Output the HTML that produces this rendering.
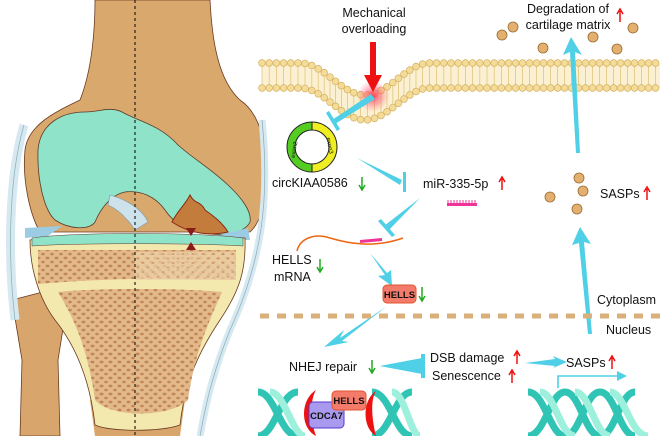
<!DOCTYPE html>
<html><head><meta charset="utf-8"><style>
html,body{margin:0;padding:0;background:#fff;}
svg{display:block;}
text{font-family:"Liberation Sans",Arial,sans-serif;fill:#111;}
</style></head><body>
<svg width="660" height="436" viewBox="0 0 660 436" xmlns="http://www.w3.org/2000/svg">
<defs>
<pattern id="sp" width="9" height="8" patternUnits="userSpaceOnUse">
<rect width="9" height="8" fill="#e3b98a"/>
<ellipse cx="2.5" cy="2" rx="2" ry="1.4" fill="#c0865a"/>
<ellipse cx="7" cy="6" rx="1.8" ry="1.3" fill="#c0865a"/>
</pattern>
<pattern id="sp2" width="10" height="9" patternUnits="userSpaceOnUse">
<rect width="10" height="9" fill="#ecd2a8"/>
<ellipse cx="3" cy="2" rx="1.6" ry="1" fill="#cf9a6c"/>
<ellipse cx="8" cy="6.5" rx="1.5" ry="1" fill="#cf9a6c"/>
</pattern>
<radialGradient id="glow"><stop offset="0" stop-color="#ff3355" stop-opacity="0.9"/><stop offset="1" stop-color="#ff6688" stop-opacity="0"/></radialGradient>
</defs>

<path d="M12,300 L58,288 L66,310 L58,360 L60,436 L20,436 L22,360 Z" fill="#d8a66c" stroke="#6b3a20" stroke-width="0.8"/>
<path d="M90,400 L185,400 L180,436 L95,436 Z" fill="#d8a66c"/>
<path d="M95,0 L210,0 C212,40 218,80 240,100 C262,115 268,150 266,185 C264,210 258,225 250,232 L40,232 C30,215 22,180 25,150 C28,125 55,112 80,100 C92,70 95,30 95,0 Z" fill="#d9a86c" stroke="#6b3a20" stroke-width="0.8"/>
<path d="M38,150 C40,125 60,112 85,112 C100,112 110,106 122,112 C140,122 160,125 178,145 C195,160 210,168 228,185 C242,198 252,212 250,222 C245,232 228,236 210,234 C190,232 175,225 165,210 C155,196 140,190 125,192 C110,195 100,210 95,222 C90,230 70,230 55,220 C44,210 37,180 38,150 Z" fill="#8fe3c8" stroke="#5a3a2a" stroke-width="0.8"/>
<path d="M172,222 C178,210 185,205 190,195 C195,205 200,200 205,210 C212,215 222,222 228,232 C210,236 190,234 172,222 Z" fill="#c47c3c" stroke="#8a2a14" stroke-width="1"/>
<path d="M110,195 C120,198 140,205 148,222 L135,230 C125,215 115,208 108,205 Z" fill="#cde2ea" stroke="#7a9aaa" stroke-width="0.6"/>
<path d="M25,228 L62,226 L48,236 L25,238 Z" fill="#9ccbe4"/>
<path d="M215,236 L248,228 L250,240 L222,240 Z" fill="#9ccbe4"/>
<path d="M30,240 C60,236 200,236 245,238 C246,270 240,290 220,320 C200,350 185,380 180,425 C160,432 110,432 95,425 C90,380 75,345 55,320 C40,300 30,270 30,240 Z" fill="#f3e8ae" stroke="#6b3a20" stroke-width="0.8"/>
<path d="M32,238 C70,232 200,232 243,238 L243,246 C200,243 70,243 32,246 Z" fill="#8fe3c8" stroke="#5a3a2a" stroke-width="0.5"/>
<path d="M38,250 L236,250 L236,280 C160,278 110,278 38,284 Z" fill="url(#sp)"/>
<path d="M58,292 C100,288 180,288 222,292 C210,320 195,350 188,400 C170,418 110,418 95,400 C88,350 75,320 58,292 Z" fill="url(#sp)"/>
<path d="M135,252 L236,252 L236,280 L135,280 Z" fill="url(#sp2)" opacity="0.7"/>
<path d="M24,125 C8,180 8,260 15,320" stroke="#d6e8f0" stroke-width="9" fill="none"/>
<path d="M24,125 C8,180 8,260 15,320" stroke="#8aaab8" stroke-width="0.7" fill="none"/>
<path d="M262,120 C270,200 262,260 230,330 C210,380 205,410 200,436" stroke="#d6e8f0" stroke-width="7" fill="none"/>
<path d="M262,120 C270,200 262,260 230,330 C210,380 205,410 200,436" stroke="#8aaab8" stroke-width="0.7" fill="none"/>
<path d="M186,228 L196,228 L191,236 Z" fill="#8b1a1a"/>
<path d="M186,250 L196,250 L191,242 Z" fill="#8b1a1a"/>
<line x1="135" y1="0" x2="135" y2="436" stroke="#222" stroke-width="1.2" stroke-dasharray="3,3"/>

<g id="dots"></g>

<circle cx="373" cy="96" r="16" fill="url(#glow)"/>
<path d="M370,42 L376,42 L376,75 L382,75 L373,92 L364,75 L370,75 Z" fill="#ee1111"/>

<text x="374" y="17" font-size="12.5" text-anchor="middle">Mechanical</text>
<text x="374" y="33" font-size="12.5" text-anchor="middle">overloading</text>
<text x="568" y="13" font-size="12.5" text-anchor="middle">Degradation of</text>
<text x="568" y="29" font-size="12.5" text-anchor="middle">cartilage matrix</text>
<path d="M620,22 L620,11 M617,14 L620,9 L623,14" stroke="#ee1111" stroke-width="1.5" fill="none"/>

<g fill="#e3b070" stroke="#9a6a30" stroke-width="0.8">
<circle cx="513" cy="27" r="5"/><circle cx="502" cy="35" r="5"/><circle cx="543" cy="48" r="5"/>
<circle cx="593" cy="37" r="5"/><circle cx="617" cy="49" r="5"/><circle cx="633" cy="28" r="5"/>
<circle cx="579" cy="178" r="5"/><circle cx="583" cy="191" r="5"/><circle cx="550" cy="197" r="5"/><circle cx="577" cy="209" r="5"/>
</g>
<text x="600" y="198" font-size="12.5">SASPs</text>
<path d="M647,200 L647,189 M644,192 L647,187 L650,192" stroke="#ee1111" stroke-width="1.5" fill="none"/>

<g fill="#4fd0e6">
<path d="M576,153 L580,153 L575,52 L582,55 L571,37 L563,55 L570,52 Z"/>
<path d="M588,334 L592,334 L584,242 L591,244 L580,227 L572,245 L579,243 Z"/>
<path d="M371,94 L375,99 L335,124 L332,120 Z"/>
<path d="M326,113 L329,111 L340,129 L337,131 Z"/>
<path d="M357,158 L402,180 L400,185 Z"/>
<path d="M403,172 L406,172 L406,192 L403,192 Z"/>
<path d="M420,198 L388,231 L384,226 Z"/>
<path d="M378,221 L381,219 L395,235 L392,237 Z"/>
<path d="M370,253 L385,275 L378,276 L392,286 L391,270 L387,273 Z"/>
<path d="M387,306 L340,338 L344,330 L324,347 L349,342 L342,341 Z"/>
<path d="M380,366 L422,358 L422,374 Z"/>
<path d="M421,354 L425,354 L425,378 L421,378 Z"/>
<path d="M525,363 L555,359 L553,356 L567,362 L553,368 L555,366 Z"/>
</g>
<path d="M558,388 L558,376 L620,376" stroke="#4fd0e6" stroke-width="1.6" fill="none"/>
<path d="M617,371 L627,376 L617,381 Z" fill="#4fd0e6"/>

<path d="M312,122 A25,25 0 0 0 312,172 L312,164 A17,17 0 0 1 312,130 Z" fill="#55cc22" stroke="#222" stroke-width="1"/>
<path d="M312,122 A25,25 0 0 1 312,172 L312,164 A17,17 0 0 0 312,130 Z" fill="#eeee22" stroke="#222" stroke-width="1"/>
<text x="296" y="150" font-size="6" transform="rotate(-80 296 150)" text-anchor="middle">exon2</text>
<text x="328" y="146" font-size="6" transform="rotate(80 328 146)" text-anchor="middle">exon3</text>
<text x="272" y="187" font-size="12.5">circKIAA0586</text>
<path d="M362,177 L362,189 M359,185 L362,190 L365,185" stroke="#22aa22" stroke-width="1.5" fill="none"/>

<text x="423" y="188" font-size="12.5">miR-335-5p</text>
<path d="M502,190 L502,178 M499,182 L502,177 L505,182" stroke="#ee1111" stroke-width="1.5" fill="none"/>
<rect x="447" y="203" width="30" height="3" fill="#ee3399"/>
<path d="M448,203 v-3 M451,203 v-3 M454,203 v-3 M457,203 v-3 M460,203 v-3 M463,203 v-3 M466,203 v-3 M469,203 v-3 M472,203 v-3 M475,203 v-3" stroke="#ee3399" stroke-width="1"/>

<path d="M297,251 C300,238 315,233 330,238 C350,244 375,248 403,238" stroke="#ee6611" stroke-width="1.5" fill="none"/>
<rect x="360" y="239" width="22" height="3" fill="#ee3399" transform="rotate(-5 371 240)"/>
<text x="272" y="264" font-size="12.5">HELLS</text>
<text x="274" y="281" font-size="12.5">mRNA</text>
<path d="M320,259 L320,271 M317,267 L320,272 L323,267" stroke="#22aa22" stroke-width="1.5" fill="none"/>

<rect x="383" y="285" width="33" height="18" rx="4" fill="#f47a6a" stroke="#e05530" stroke-width="1"/>
<text x="399.5" y="298" font-size="9.5" font-weight="bold" text-anchor="middle">HELLS</text>
<path d="M422,287 L422,300 M419,296 L422,301 L425,296" stroke="#22aa22" stroke-width="1.5" fill="none"/>

<line x1="260" y1="316" x2="660" y2="316" stroke="#d9b07a" stroke-width="5" stroke-dasharray="9,8"/>
<text x="597" y="304" font-size="12.5">Cytoplasm</text>
<text x="606" y="334" font-size="12.5">Nucleus</text>

<text x="289" y="371" font-size="12.5">NHEJ repair</text>
<path d="M372,360 L372,372 M369,368 L372,373 L375,368" stroke="#22aa22" stroke-width="1.5" fill="none"/>
<text x="430" y="362" font-size="12.5">DSB damage</text>
<text x="432" y="380" font-size="12.5">Senescence</text>
<path d="M517,364 L517,352 M514,356 L517,351 L520,356" stroke="#ee1111" stroke-width="1.5" fill="none"/>
<path d="M512,383 L512,371 M509,375 L512,370 L515,375" stroke="#ee1111" stroke-width="1.5" fill="none"/>
<text x="566" y="367" font-size="12.5">SASPs</text>
<path d="M612,369 L612,357 M609,361 L612,356 L615,361" stroke="#ee1111" stroke-width="1.5" fill="none"/>

<g stroke-width="7" fill="none">
<path d="M258,392 C275,392 280,436 298,436 M258,436 C275,436 280,392 298,392" stroke="#2fc4b4"/>
<path d="M372,392 C390,392 395,436 412,436 M372,436 C390,436 395,392 412,392" stroke="#2fc4b4"/>
<path d="M392,392 C405,392 410,436 420,436" stroke="#9df0dc"/>
<path d="M270,392 C285,392 292,436 305,436" stroke="#9df0dc"/>
<path d="M528,392 C545,392 550,436 565,436 M528,436 C545,436 550,392 565,392 M565,392 C580,392 585,436 600,436 M565,436 C580,436 585,392 600,392 M600,392 C615,392 620,436 635,436 M600,436 C615,436 620,392 635,392" stroke="#2fc4b4"/>
<path d="M540,392 C555,392 560,436 575,436 M575,392 C590,392 595,436 610,436 M610,392 C625,392 630,436 648,436" stroke="#9df0dc"/>
</g>
<path d="M316,390 C300,400 300,428 316,436 C310,420 310,400 316,390 Z" fill="#ee1111"/>
<path d="M376,391 C362,400 362,428 376,436 C372,420 370,400 376,391 Z" fill="#ee1111"/>
<rect x="309" y="402" width="35" height="26" rx="4" fill="#a99af0" stroke="#5a3acc" stroke-width="1"/>
<text x="326.5" y="419" font-size="9.5" font-weight="bold" text-anchor="middle">CDCA7</text>
<rect x="332" y="391" width="34" height="19" rx="4" fill="#f47a6a" stroke="#e05530" stroke-width="1"/>
<text x="349" y="404" font-size="9.5" font-weight="bold" text-anchor="middle">HELLS</text>
</svg>
<script>
(function(){
var g=document.getElementById('dots'),ns='http://www.w3.org/2000/svg';
function d(x){if(x>300&&x<430){var t=(x-300)/130;return 32*Math.pow(Math.sin(Math.PI*t),2);}return 0;}
function el(n,a){var e=document.createElementNS(ns,n);for(var k in a)e.setAttribute(k,a[k]);g.appendChild(e);return e;}
var top=[],bot=[];
for(var x=262;x<=662;x+=2){top.push(x+','+(63+d(x)));bot.unshift(x+','+(88+d(x)));}
el('polygon',{points:top.concat(bot).join(' '),fill:'#fbf1d2'});
var pts=[],acc=0,px=262,py=d(262);
pts.push(262);
for(var xx=262.2;xx<662;xx+=0.2){var yy=d(xx);acc+=Math.hypot(xx-px,yy-py);px=xx;py=yy;if(acc>=7){pts.push(xx);acc=0;}}
pts.forEach(function(x){
el('line',{x1:x,x2:x,y1:66+d(x),y2:85+d(x),stroke:'#e2c680','stroke-width':0.8});
[63,88].forEach(function(o){el('circle',{cx:x,cy:o+d(x),r:3.4,fill:'#f4dc98',stroke:'#d4b060','stroke-width':0.7});});
});
})();
</script>
</body></html>
